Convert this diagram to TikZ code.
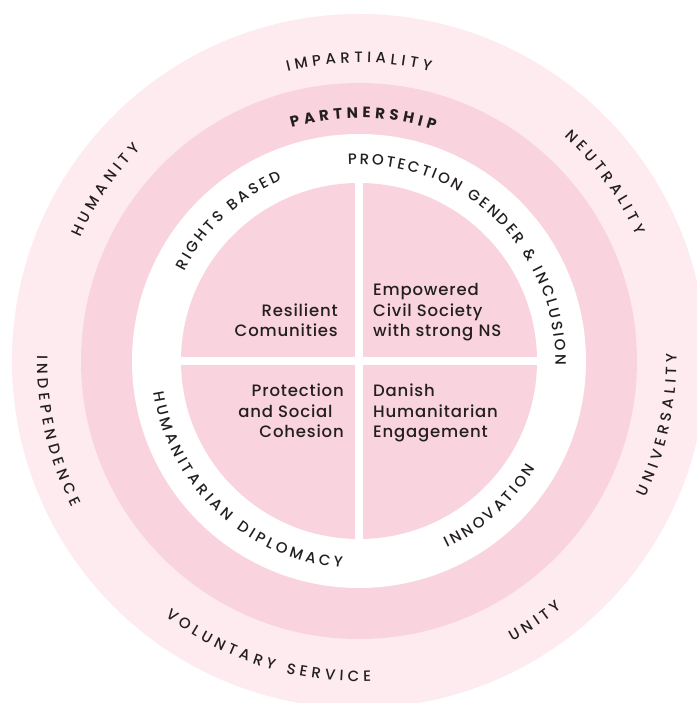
\documentclass[tikz,border=0pt]{standalone}
\usepackage{fontspec}
\setmainfont{Poppins}
\newfontfamily\capsfont{Poppins Medium}
\newfontfamily\capsboldfont{Poppins}
\newfontfamily\bodyfont[LetterSpace=5]{Poppins Medium}
\definecolor{ringlight}{HTML}{FDEBEF}
\definecolor{ringpink}{HTML}{F9D4DE}
\definecolor{inkdark}{HTML}{231F20}

\newcommand\ringcaps{\capsfont\fontsize{15}{17}\selectfont}
\newcommand\ringbold{\capsboldfont\bfseries\fontsize{15}{17}\selectfont}

% Curved lettering: \arcprep measures the letters (outside the picture),
% \arcword sets them one by one along a circle around the origin.
% \arcprep{name}{font}{tracking in pt}{comma separated letters, ~ = word space}
% \arcword{name}{baseline radius}{centre angle}{1 clockwise, -1 anticlockwise}
\newlength\arcchw
\makeatletter
\newcommand\arcprep[4]{%
  \expandafter\gdef\csname arcf@#1\endcsname{#2}%
  \expandafter\gdef\csname arcs@#1\endcsname{#3}%
  \expandafter\gdef\csname arcl@#1\endcsname{#4}%
  \gdef\arc@total{0}%
  \foreach \ch [count=\k] in {#4}{%
    \settowidth\arcchw{#2\ch}%
    \expandafter\xdef\csname arcw@#1@\k\endcsname{\the\arcchw}%
    \pgfmathsetmacro\arc@t{\arc@total+\arcchw+#3}%
    \global\let\arc@total\arc@t
  }%
  \pgfmathsetmacro\arc@tot{\arc@total-#3}%
  \expandafter\xdef\csname arct@#1\endcsname{\arc@tot}%
}
\newcommand\arcword[4]{%
  \edef\arc@total{\csname arct@#1\endcsname}%
  \edef\arc@sp{\csname arcs@#1\endcsname}%
  \expandafter\let\expandafter\arc@font\csname arcf@#1\endcsname
  \expandafter\let\expandafter\arc@list\csname arcl@#1\endcsname
  \gdef\arc@pos{0}%
  \foreach \ch [count=\k] in \arc@list {%
    \edef\arc@w{\csname arcw@#1@\k\endcsname}%
    \pgfmathsetmacro\arc@ang{#3-(#4)*(\arc@pos+0.5*\arc@w-0.5*\arc@total)/#2*180/pi}%
    \pgfmathsetmacro\arc@rot{\arc@ang-(#4)*90}%
    \node[arcletter, font=\arc@font, rotate=\arc@rot] (#1-\k) at (\arc@ang:#2) {\ch};
    \pgfmathsetmacro\arc@p{\arc@pos+\arc@w+\arc@sp}%
    \global\let\arc@pos\arc@p
  }%
}
\makeatother

\tikzset{
  arcletter/.style={text=inkdark, inner sep=0pt, anchor=base},
  quadtext/.style={text=inkdark, inner sep=0pt, font=\bodyfont\fontsize{16.5}{20.6}\selectfont},
}

\begin{document}
% principles in the outer ring
\arcprep{imp}{\ringcaps}{4.3}{I,M,P,A,R,T,I,A,L,I,T,Y}
\arcprep{neu}{\ringcaps}{4.2}{N,E,U,T,R,A,L,I,T,Y}
\arcprep{hum}{\ringcaps}{4.4}{H,U,M,A,N,I,T,Y}
\arcprep{uni}{\ringcaps}{4.35}{U,N,I,V,E,R,S,A,L,I,T,Y}
\arcprep{unity}{\ringcaps}{4.2}{U,N,I,T,Y}
\arcprep{vol}{\ringcaps}{4.3}{V,O,L,U,N,T,A,R,Y,~,S,E,R,V,I,C,E}
\arcprep{ind}{\ringcaps}{4.35}{I,N,D,E,P,E,N,D,E,N,C,E}
% partnership ring
\arcprep{part}{\ringbold}{4.3}{P,A,R,T,N,E,R,S,H,I,P}
% approaches in the white ring
\arcprep{rights}{\ringcaps}{2.9}{R,I,G,H,T,S,~,B,A,S,E,D}
\arcprep{prot}{\ringcaps}{2.5}{P,R,O,T,E,C,T,I,O,N,~,G,E,N,D,E,R,~,\&,~,I,N,C,L,U,S,I,O,N}
\arcprep{dipl}{\ringcaps}{3.55}{H,U,M,A,N,I,T,A,R,I,A,N,~,D,I,P,L,O,M,A,C,Y}
\arcprep{innov}{\ringcaps}{3.1}{I,N,N,O,V,A,T,I,O,N}%
\begin{tikzpicture}[x=1pt, y=1pt]
  \useasboundingbox (-359,-342) rectangle (338,361);
  \clip (-359,-342) rectangle (338,361);
  \fill[white] (-359,-342) rectangle (338,361);

  % rings and the quartered centre
  \fill[ringlight] (0,0) circle (347);
  \fill[ringpink]  (0,0) circle (278);
  \fill[white]     (0,0) circle (227);
  \fill[ringpink]  (0,0) circle (178);
  \fill[white] (-4,-180) rectangle (4,180);
  \fill[white] (-180,-4) rectangle (180,4);

  \arcword{imp}{298.5}{90}{1}
  \arcword{neu}{304.5}{36}{1}
  \arcword{hum}{304.5}{146}{1}
  \arcword{uni}{317.5}{-12}{-1}
  \arcword{unity}{319.5}{-56}{-1}
  \arcword{vol}{320.5}{-107.5}{-1}
  \arcword{ind}{322}{193}{-1}

  \arcword{part}{243}{89}{1}

  \arcword{rights}{196.5}{133}{1}
  \arcword{prot}{196.5}{46}{1}
  \arcword{dipl}{207.5}{227}{-1}
  \arcword{innov}{206.5}{-48}{-1}

  % outcomes in the quarters (anchored on the baseline of the last line)
  \node[quadtext, align=right, anchor=base east] (resilient) at (-21,24) {Resilient\\Comunities};
  \node[quadtext, align=left, anchor=base west] (civil) at (14,24) {Empowered\\Civil Society\\with strong NS};
  \node[quadtext, align=right, anchor=base east] (cohesion) at (-15,-77) {Protection\\and Social\hphantom{a}\\Cohesion};
  \node[quadtext, align=left, anchor=base west] (danish) at (14,-77) {Danish\\Humanitarian\\Engagement};
\end{tikzpicture}
\end{document}
